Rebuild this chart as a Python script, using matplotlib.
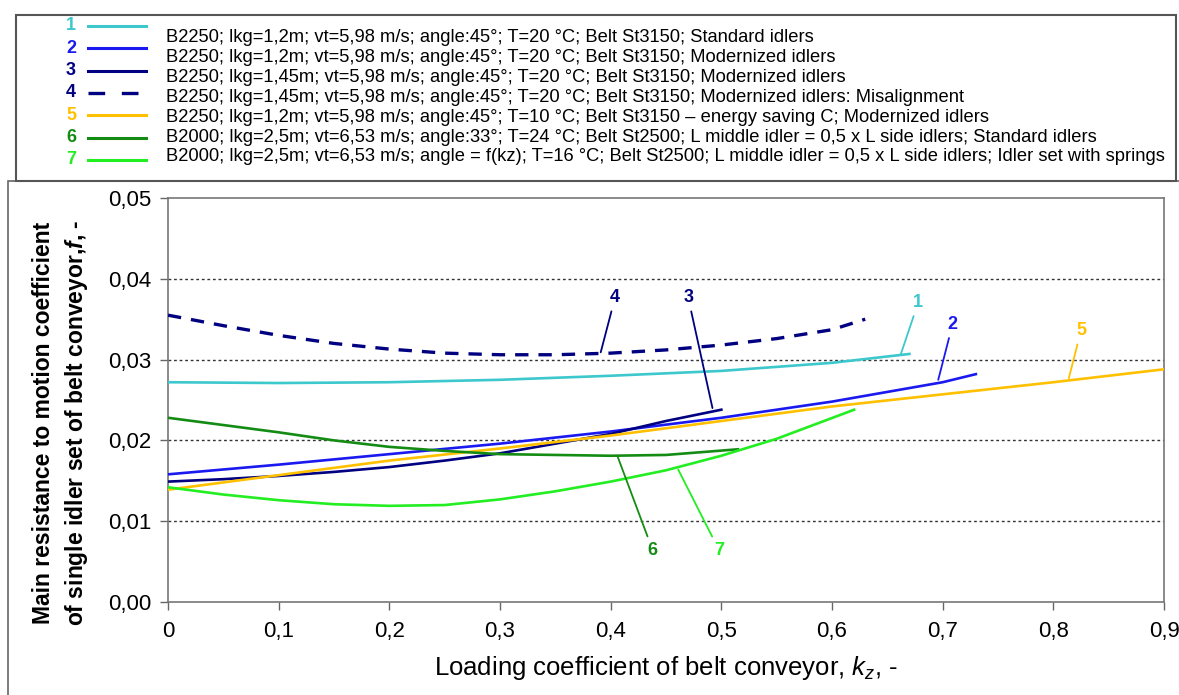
import matplotlib
matplotlib.use('Agg')
import matplotlib.pyplot as plt
from matplotlib.lines import Line2D
from matplotlib.patches import Rectangle
from matplotlib.ticker import FuncFormatter

plt.rcParams['font.family'] = ['Liberation Sans', 'DejaVu Sans']
plt.rcParams['mathtext.fontset'] = 'custom'
plt.rcParams['mathtext.it'] = 'Liberation Sans:italic'
plt.rcParams['mathtext.bf'] = 'Liberation Sans:bold:italic'
plt.rcParams['mathtext.rm'] = 'Liberation Sans'

# series: loading coefficient kz -> resistance coefficient f
kz_1 = [0, 0.1, 0.2, 0.3, 0.4, 0.5, 0.6, 0.67]
f_1 = [0.0272, 0.0271, 0.0272, 0.0275, 0.0280, 0.0286, 0.0296, 0.0307]

kz_2 = [0, 0.1, 0.2, 0.3, 0.4, 0.5, 0.6, 0.7, 0.73]
f_2 = [0.0158, 0.0170, 0.0183, 0.0196, 0.0211, 0.0228, 0.0248, 0.0272, 0.0282]

kz_3 = [0, 0.05, 0.1, 0.15, 0.2, 0.25, 0.3, 0.35, 0.4, 0.45, 0.5]
f_3 = [0.0149, 0.0152, 0.0156, 0.0161, 0.0167, 0.0175, 0.0184, 0.0196, 0.0208, 0.0224, 0.0238]

kz_4 = [0, 0.05, 0.1, 0.15, 0.2, 0.25, 0.3, 0.35, 0.4, 0.45, 0.5, 0.55, 0.6, 0.63]
f_4 = [0.0355, 0.0342, 0.0330, 0.0320, 0.0313, 0.0308, 0.0306, 0.0306, 0.0308, 0.0312,
       0.0318, 0.0326, 0.0337, 0.0350]

kz_5 = [0, 0.1, 0.2, 0.3, 0.4, 0.5, 0.6, 0.7, 0.8, 0.9]
f_5 = [0.0139, 0.0157, 0.0175, 0.0190, 0.0206, 0.0224, 0.0242, 0.0257, 0.0272, 0.0288]

kz_6 = [0, 0.05, 0.1, 0.15, 0.2, 0.25, 0.3, 0.35, 0.4, 0.45, 0.515]
f_6 = [0.0228, 0.0219, 0.0210, 0.0200, 0.0192, 0.0187, 0.0183, 0.0182, 0.0181, 0.0182, 0.0189]

kz_7 = [0, 0.05, 0.1, 0.15, 0.2, 0.25, 0.3, 0.35, 0.4, 0.45, 0.5, 0.55, 0.62]
f_7 = [0.0142, 0.0133, 0.0126, 0.0121, 0.0119, 0.0120, 0.0127, 0.0137, 0.0149, 0.0163,
       0.0181, 0.0202, 0.0238]

labels = [
    'B2250; lkg=1,2m; vt=5,98 m/s; angle:45°; T=20 °C; Belt St3150; Standard idlers',
    'B2250; lkg=1,2m; vt=5,98 m/s; angle:45°; T=20 °C; Belt St3150; Modernized idlers',
    'B2250; lkg=1,45m; vt=5,98 m/s; angle:45°; T=20 °C; Belt St3150; Modernized idlers',
    'B2250; lkg=1,45m; vt=5,98 m/s; angle:45°; T=20 °C; Belt St3150; Modernized idlers: Misalignment',
    'B2250; lkg=1,2m; vt=5,98 m/s; angle:45°; T=10 °C; Belt St3150 \u2013 energy saving C; Modernized idlers',
    'B2000; lkg=2,5m; vt=6,53 m/s; angle:33°; T=24 °C; Belt St2500; L middle idler = 0,5 x L side idlers; Standard idlers',
    'B2000; lkg=2,5m; vt=6,53 m/s; angle = f(kz); T=16 °C; Belt St2500; L middle idler = 0,5 x L side idlers; Idler set with springs',
]
colors = ['#3CC8CC', '#1A1AF0', '#000080', '#000080', '#FFC000', '#148C14', '#22EE22']

W, H = 1179, 695
fig = plt.figure(figsize=(W / 100, H / 100), dpi=100)


def fx(x):
    return x / W


def fy(y):
    return 1 - y / H


# frames around legend and chart
fig.patches.append(Rectangle((fx(8), fy(700)), fx(1180) - fx(8), fy(181) - fy(700),
                             transform=fig.transFigure, fill=False, ec='#666666', lw=1.2))
fig.patches.append(Rectangle((fx(16), fy(181)), fx(1176) - fx(16), fy(15) - fy(181),
                             transform=fig.transFigure, fill=False, ec='#555555', lw=1.5))

ax = fig.add_axes([fx(168), fy(602), fx(1164) - fx(168), fy(198) - fy(602)])

series = [(kz_1, f_1), (kz_2, f_2), (kz_3, f_3), (kz_4, f_4), (kz_5, f_5), (kz_6, f_6), (kz_7, f_7)]
for i, (x, y) in enumerate(series):
    if i == 3:
        ax.plot(x, y, color=colors[i], lw=2.4, dashes=(4, 3), zorder=3)
    else:
        ax.plot(x, y, color=colors[i], lw=1.9, zorder=3)

ax.set_xlim(0, 0.9)
ax.set_ylim(0, 0.05)
ax.set_xticks([0, 0.1, 0.2, 0.3, 0.4, 0.5, 0.6, 0.7, 0.8, 0.9])
ax.set_yticks([0, 0.01, 0.02, 0.03, 0.04, 0.05])
ax.xaxis.set_major_formatter(FuncFormatter(lambda v, p: '0' if v == 0 else f'{v:.1f}'.replace('.', ',')))
ax.yaxis.set_major_formatter(FuncFormatter(lambda v, p: f'{v:.2f}'.replace('.', ',')))
ax.tick_params(axis='both', direction='out', length=6, color='#666666', width=1)
ax.tick_params(axis='y', labelsize=16, pad=6)
ax.tick_params(axis='x', labelsize=16, pad=8)
for sp in ax.spines.values():
    sp.set_color('#777777')
    sp.set_linewidth(1.2)
for yv in [0.01, 0.02, 0.03, 0.04]:
    ax.axhline(yv, color='#333333', lw=1, ls=(0, (2, 2)), zorder=1)

ax.set_xlabel(r'Loading coefficient of belt conveyor, $\mathit{k_z}$, -', fontsize=18.5, labelpad=8)
fig.text(fx(44), fy(423), 'Main resistance to motion coefficient', rotation=90,
         fontsize=16.5, fontweight='bold', ha='center', va='center')
fig.text(fx(77), fy(423), r'of single idler set of belt conveyor,$\mathbf{f}$, -', rotation=90,
         fontsize=16.5, fontweight='bold', ha='center', va='center')

# numbered leader labels on the curves
notes = [
    ('4', (0.391, 0.0309), (0.404, 0.0377)),
    ('3', (0.492, 0.0240), (0.470, 0.0377)),
    ('1', (0.662, 0.0306), (0.678, 0.0371)),
    ('2', (0.696, 0.0275), (0.709, 0.0344)),
    ('5', (0.814, 0.0277), (0.825, 0.0336)),
    ('6', (0.406, 0.0181), (0.438, 0.0064)),
    ('7', (0.461, 0.0164), (0.498, 0.0064)),
]
note_idx = {'1': 0, '2': 1, '3': 2, '4': 3, '5': 4, '6': 5, '7': 6}
for txt, xy, xyt in notes:
    c = colors[note_idx[txt]]
    ax.annotate(txt, xy=xy, xytext=xyt, color=c, fontsize=13, fontweight='bold',
                ha='center', va='center',
                arrowprops=dict(arrowstyle='-', color=c, lw=1.3, shrinkA=2, shrinkB=0))

# legend block
for i in range(7):
    yl = 26 + 22.3 * i
    fig.text(fx(71), fy(yl), str(i + 1), color=colors[i], fontsize=13, fontweight='bold',
             ha='center', va='center')
    if i == 3:
        fig.add_artist(Line2D([fx(88), fx(146)], [fy(yl), fy(yl)], color=colors[i], lw=2.4,
                              dashes=(5, 5), transform=fig.transFigure))
    else:
        fig.add_artist(Line2D([fx(88), fx(146)], [fy(yl), fy(yl)], color=colors[i], lw=2.2,
                              transform=fig.transFigure))
    fig.text(fx(166), fy(38 + 19.8 * i), labels[i], fontsize=13.2, ha='left', va='center')

fig.savefig('out.png', dpi=100)
